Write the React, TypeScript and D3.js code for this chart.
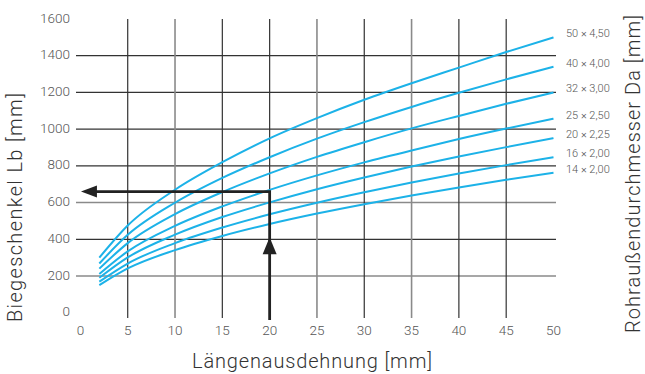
import React from "react";
import * as d3 from "d3";

const xValues = [2, 5, 10, 15, 20, 25, 30, 35, 40, 45, 50];
const seriesLabels = ["50 × 4,50", "40 × 4,00", "32 × 3,00", "25 × 2,50", "20 × 2,25", "16 × 2,00", "14 × 2,00"];
const s50 = [300, 475, 670, 820, 950, 1060, 1160, 1250, 1335, 1420, 1500];
const s40 = [268, 424, 599, 734, 847, 948, 1038, 1121, 1198, 1271, 1340];
const s32 = [240, 379, 537, 657, 759, 849, 929, 1004, 1072, 1138, 1200];
const s25 = [211, 334, 473, 579, 669, 748, 819, 884, 946, 1003, 1057];
const s20 = [190, 301, 425, 521, 601, 673, 737, 796, 851, 902, 951];
const s16 = [169, 268, 379, 464, 536, 599, 656, 709, 758, 804, 847];
const s14 = [150, 241, 341, 418, 483, 540, 591, 638, 682, 724, 763];
const seriesValues = [s50, s40, s32, s25, s20, s16, s14];
const xTicks = [0, 5, 10, 15, 20, 25, 30, 35, 40, 45, 50];
const yTicks = [0, 200, 400, 600, 800, 1000, 1200, 1400, 1600];
const xGrid = [5, 10, 15, 20, 25, 30, 35, 40, 45];
const yGrid = [200, 400, 600, 800, 1000, 1200, 1400];
const xGridGray = [10, 25, 35];
const yGridGray = [200, 600];
const exampleX = 20;
const exampleY = 660;

const W = 645;
const H = 374;
const FONT = "Roboto, 'Open Sans', sans-serif";
const BLUE = "#1cb2e8";
const TEXT = "#555";

export default function App() {
  const x = d3.scaleLinear().domain([0, 50]).range([80.4, 553.5]);
  const y = d3.scaleLinear().domain([0, 1600]).range([312.7, 19]);
  const line = d3
    .line<number>()
    .x((_, i) => x(xValues[i]))
    .y((d) => y(d))
    .curve(d3.curveMonotoneX);

  const ax = x(exampleX);
  const ay = y(exampleY);
  const arrowBottom = 320;
  const vTipY = y(411);
  const hTipX = x(0.06);

  return (
    <svg
      width={W}
      height={H}
      style={{ position: "absolute", left: 0, top: 0, background: "#fff" }}
      fontFamily={FONT}
    >
      {/* grid */}
      {yGrid.map((v) => (
        <line
          key={"h" + v}
          x1={76}
          x2={556}
          y1={y(v)}
          y2={y(v)}
          stroke={yGridGray.includes(v) ? "#8a8a8a" : "#333"}
          strokeWidth={yGridGray.includes(v) ? 1.6 : 1.2}
        />
      ))}
      {xGrid.map((v) => (
        <line
          key={"v" + v}
          x1={x(v)}
          x2={x(v)}
          y1={19}
          y2={318}
          stroke={xGridGray.includes(v) ? "#8a8a8a" : "#333"}
          strokeWidth={xGridGray.includes(v) ? 1.6 : 1.2}
        />
      ))}

      {/* curves */}
      {seriesValues.map((s, i) => (
        <path key={"c" + i} d={line(s) || ""} fill="none" stroke={BLUE} strokeWidth={2} />
      ))}

      {/* example arrows */}
      <polyline
        points={`${ax},${arrowBottom} ${ax},${ay} ${hTipX + 12},${ay}`}
        fill="none"
        stroke="#222"
        strokeWidth={2.8}
      />
      <path d={`M${hTipX},${ay} L${hTipX + 16},${ay - 6} L${hTipX + 16},${ay + 6} Z`} fill="#222" />
      <path d={`M${ax},${vTipY} L${ax - 7},${vTipY + 17} L${ax + 7},${vTipY + 17} Z`} fill="#222" />

      {/* series labels */}
      {seriesValues.map((s, i) => (
        <text
          key={"l" + i}
          x={566}
          y={y(s[s.length - 1]) - 3}
          dominantBaseline="middle"
          fontSize={11}
          fill={TEXT}
          fontWeight={300}
        >
          {seriesLabels[i]}
        </text>
      ))}

      {/* y ticks */}
      {yTicks.map((v) => (
        <text
          key={"yt" + v}
          x={70}
          y={y(v)}
          textAnchor="end"
          dominantBaseline="middle"
          fontSize={13.5}
          fill={TEXT}
          fontWeight={300}
        >
          {v}
        </text>
      ))}
      {/* x ticks */}
      {xTicks.map((v) => (
        <text
          key={"xt" + v}
          x={x(v)}
          y={331}
          textAnchor="middle"
          dominantBaseline="middle"
          fontSize={13.5}
          fill={TEXT}
          fontWeight={300}
        >
          {v}
        </text>
      ))}

      {/* axis titles */}
      <text
        transform={`translate(17,207.5) rotate(-90)`}
        textAnchor="middle"
        dominantBaseline="middle"
        fontSize={20}
        fill="#333"
        fontWeight={300}
        textLength={229}
        lengthAdjust="spacing"
      >
        Biegeschenkel Lb [mm]
      </text>
      <text
        transform={`translate(635,174) rotate(-90)`}
        textAnchor="middle"
        dominantBaseline="middle"
        fontSize={20}
        fill="#333"
        fontWeight={300}
        textLength={318}
        lengthAdjust="spacing"
      >
        Rohraußendurchmesser Da [mm]
      </text>
      <text
        x={312}
        y={368}
        textAnchor="middle"
        fontSize={20}
        fill="#333"
        fontWeight={300}
        textLength={240}
        lengthAdjust="spacing"
      >
        Längenausdehnung [mm]
      </text>
    </svg>
  );
}
